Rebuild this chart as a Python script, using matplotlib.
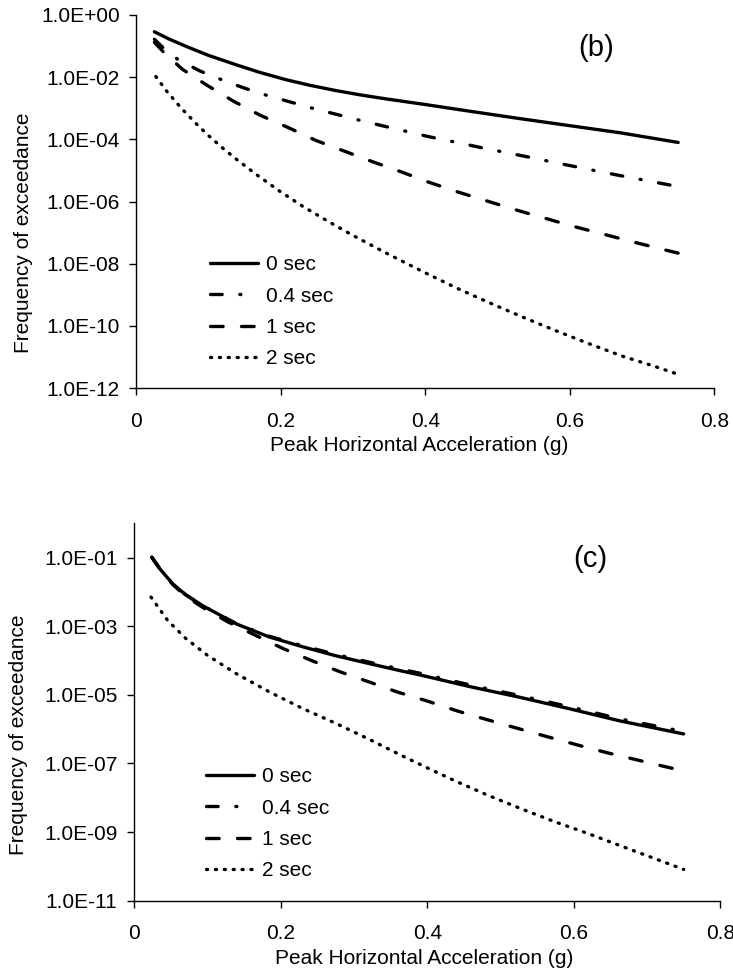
import numpy as np
import matplotlib
matplotlib.use("Agg")
import matplotlib.pyplot as plt
from matplotlib.ticker import FixedLocator, FuncFormatter, NullLocator

plt.rcParams['font.family'] = ['Liberation Sans', 'DejaVu Sans']
plt.rcParams['lines.scale_dashes'] = False

series_labels = ["0 sec", "0.4 sec", "1 sec", "2 sec"]

# Panel (b): PHA (g) and log10(frequency of exceedance)
b_x_0 = [0.025, 0.045, 0.07, 0.10, 0.138, 0.17, 0.207, 0.24, 0.276, 0.31, 0.346,
         0.40, 0.46, 0.53, 0.60, 0.67, 0.75]
b_log_0 = [-0.54, -0.77, -1.02, -1.30, -1.60, -1.84, -2.08, -2.26, -2.43, -2.57, -2.70,
           -2.88, -3.09, -3.33, -3.56, -3.79, -4.10]
b_x_04 = [0.025, 0.04, 0.0575, 0.088, 0.119, 0.148, 0.18, 0.212, 0.244, 0.276, 0.308,
          0.34, 0.373, 0.404, 0.448, 0.48, 0.513, 0.545, 0.578, 0.61, 0.642, 0.675,
          0.707, 0.75]
b_log_04 = [-0.78, -1.12, -1.43, -1.80, -2.09, -2.34, -2.58, -2.79, -3.00, -3.19, -3.38,
            -3.56, -3.74, -3.91, -4.12, -4.28, -4.43, -4.58, -4.74, -4.89, -5.04, -5.19,
            -5.33, -5.52]
b_x_1 = [0.025, 0.04, 0.064, 0.0985, 0.135, 0.171, 0.212, 0.249, 0.288, 0.327, 0.366,
         0.405, 0.446, 0.485, 0.524, 0.563, 0.605, 0.645, 0.686, 0.727, 0.75]
b_log_1 = [-0.88, -1.25, -1.75, -2.27, -2.78, -3.22, -3.64, -4.04, -4.38, -4.72, -5.04,
           -5.38, -5.70, -5.98, -6.26, -6.52, -6.80, -7.04, -7.29, -7.53, -7.66]
b_x_2 = [0.027, 0.042, 0.0623, 0.083, 0.099, 0.12, 0.138, 0.166, 0.198, 0.23, 0.267,
         0.299, 0.341, 0.368, 0.397, 0.443, 0.487, 0.533, 0.579, 0.625, 0.671, 0.717,
         0.745]
b_log_2 = [-1.98, -2.45, -3.00, -3.50, -3.86, -4.29, -4.63, -5.13, -5.66, -6.15, -6.66,
           -7.08, -7.60, -7.92, -8.26, -8.78, -9.24, -9.70, -10.14, -10.56, -10.96, -11.30,
           -11.52]

# Panel (c)
c_x_0 = [0.024, 0.035, 0.0523, 0.07, 0.0933, 0.139, 0.184, 0.23, 0.275, 0.321, 0.366,
         0.39, 0.458, 0.526, 0.595, 0.663, 0.75]
c_log_0 = [-0.99, -1.33, -1.76, -2.08, -2.40, -2.93, -3.31, -3.60, -3.86, -4.09, -4.31,
           -4.42, -4.76, -5.07, -5.41, -5.76, -6.14]
c_x_04 = [0.024, 0.035, 0.0523, 0.07, 0.0933, 0.139, 0.184, 0.23, 0.275, 0.321, 0.366,
          0.39, 0.458, 0.526, 0.595, 0.663, 0.75]
c_log_04 = [-0.99, -1.33, -1.76, -2.08, -2.40, -2.92, -3.29, -3.57, -3.82, -4.05, -4.26,
            -4.37, -4.71, -5.02, -5.35, -5.70, -6.07]
c_x_1 = [0.024, 0.035, 0.0523, 0.07, 0.0933, 0.1275, 0.164, 0.203, 0.242, 0.281, 0.32,
         0.358, 0.3998, 0.441, 0.481, 0.522, 0.562, 0.603, 0.644, 0.685, 0.726, 0.75]
c_log_1 = [-0.99, -1.33, -1.78, -2.12, -2.45, -2.87, -3.25, -3.65, -4.00, -4.33, -4.62,
           -4.91, -5.18, -5.47, -5.72, -5.97, -6.21, -6.45, -6.68, -6.89, -7.10, -7.22]
c_x_2 = [0.0228, 0.0455, 0.0705, 0.10, 0.139, 0.184, 0.23, 0.275, 0.321, 0.366, 0.405,
         0.437, 0.483, 0.528, 0.574, 0.619, 0.665, 0.71, 0.75]
c_log_2 = [-2.15, -2.83, -3.36, -3.85, -4.38, -4.91, -5.40, -5.83, -6.30, -6.78, -7.18,
           -7.50, -7.93, -8.32, -8.70, -9.04, -9.41, -9.77, -10.09]

x_ticks = [0, 0.2, 0.4, 0.6, 0.8]
x_tick_labels = ["0", "0.2", "0.4", "0.6", "0.8"]
b_y_ticks = [1e0, 1e-2, 1e-4, 1e-6, 1e-8, 1e-10, 1e-12]
c_y_ticks = [1e-1, 1e-3, 1e-5, 1e-7, 1e-9, 1e-11]

styles = [
    dict(linestyle='-', solid_capstyle='round'),
    dict(linestyle=(0, (8.4, 12.7, 0.8, 12.7)), dash_capstyle='round'),
    dict(linestyle=(0, (9.1, 13.2)), dash_capstyle='round'),
    dict(linestyle=(0, (0.8, 5.6)), dash_capstyle='round'),
]

LW = 2.4
FS = 15

fig = plt.figure(figsize=(7.33, 9.74), dpi=100)


def setup(ax, yticks, ylim):
    ax.set_yscale('log')
    ax.set_xlim(0, 0.8)
    ax.set_ylim(*ylim)
    ax.yaxis.set_major_locator(FixedLocator(yticks))
    ax.yaxis.set_minor_locator(NullLocator())
    ax.yaxis.set_major_formatter(FuncFormatter(lambda v, p: f"{v:.1E}"))
    ax.xaxis.set_major_locator(FixedLocator(x_ticks))
    ax.set_xticklabels(x_tick_labels)
    for s in ['top', 'right']:
        ax.spines[s].set_visible(False)
    for s in ['left', 'bottom']:
        ax.spines[s].set_linewidth(1.0)
    ax.tick_params(axis='both', direction='out', length=5, width=1.0,
                   labelsize=FS, colors='black')
    ax.tick_params(axis='x', pad=12)
    ax.tick_params(axis='y', pad=7)


def draw(ax, xs, logs):
    for x, lg, st, lab in zip(xs, logs, styles, series_labels):
        ax.plot(x, 10 ** np.array(lg), color='black', lw=LW,
                label=lab, **st)


legend_kw = dict(bbox_transform=fig.transFigure, frameon=False, fontsize=FS,
                 handlelength=2.3, handletextpad=0.4, labelspacing=0.6,
                 borderpad=0, borderaxespad=0, loc='upper left')

ax1 = fig.add_axes([0.186, 0.6016, 0.7885, 0.383])
setup(ax1, b_y_ticks, (1e-12, 1e0))
draw(ax1, [b_x_0, b_x_04, b_x_1, b_x_2], [b_log_0, b_log_04, b_log_1, b_log_2])
ax1.legend(bbox_to_anchor=(210 / 733, 1 - 255 / 974), **legend_kw)
fig.text(596 / 733, 1 - 47.5 / 974, "(b)", fontsize=21, ha='center', va='center')
fig.text(419 / 733, 1 - 445 / 974, "Peak Horizontal Acceleration (g)",
         fontsize=FS, ha='center', va='center')
fig.text(24 / 733, 1 - 232.5 / 974, "Frequency of exceedance", fontsize=FS,
         rotation=90, ha='center', va='center')

ax2 = fig.add_axes([0.1832, 0.0753, 0.7995, 0.3874])
setup(ax2, c_y_ticks, (1e-11, 1e0))
draw(ax2, [c_x_0, c_x_04, c_x_1, c_x_2], [c_log_0, c_log_04, c_log_1, c_log_2])
ax2.legend(bbox_to_anchor=(206 / 733, 1 - 767 / 974), **legend_kw)
fig.text(590 / 733, 1 - 559 / 974, "(c)", fontsize=21, ha='center', va='center')
fig.text(424 / 733, 1 - 958 / 974, "Peak Horizontal Acceleration (g)",
         fontsize=FS, ha='center', va='center')
fig.text(19 / 733, 1 - 734.5 / 974, "Frequency of exceedance", fontsize=FS,
         rotation=90, ha='center', va='center')

fig.savefig("out.png", dpi=100)
